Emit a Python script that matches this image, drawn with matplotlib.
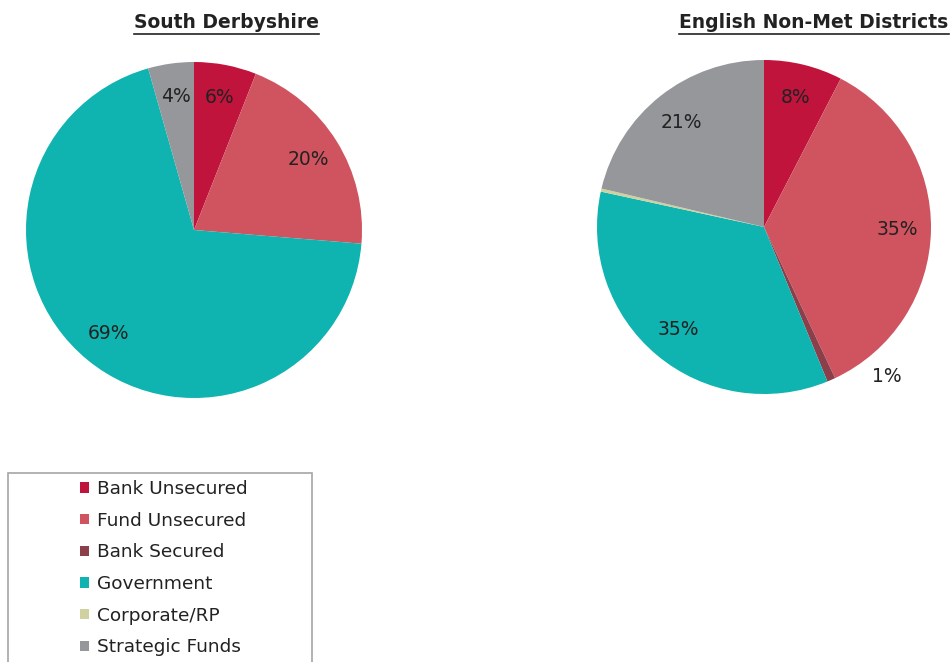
import matplotlib
matplotlib.use("Agg")
import matplotlib.pyplot as plt
import matplotlib.transforms as mtransforms
import numpy as np
from matplotlib.lines import Line2D
from matplotlib.patches import Rectangle

categories = ["Bank Unsecured", "Fund Unsecured", "Bank Secured",
              "Government", "Corporate/RP", "Strategic Funds"]
colors = ["#C0143C", "#D0545F", "#8B3F4A", "#0FB3AF", "#CFD1A0", "#95979A"]

south_derbyshire = [6.0, 20.3, 0.0, 69.3, 0.0, 4.4]
non_met_districts = [7.6, 35.4, 0.8, 34.6, 0.3, 21.3]

titles = ["South Derbyshire", "English Non-Met Districts"]

W, H = 952, 662
fig = plt.figure(figsize=(W / 100, H / 100), dpi=100)
fig.patch.set_facecolor("white")


def px_axes(cx, cy, r):
    return fig.add_axes([(cx - r) / W, (H - cy - r) / H, 2 * r / W, 2 * r / H])


def pct_label(p):
    return f"{p:.0f}%" if p >= 0.5 else ""


def draw_pie(ax, values, outside=()):
    wedges, _, autotexts = ax.pie(
        values, colors=colors, startangle=90, counterclock=False,
        autopct=pct_label, pctdistance=0.8, radius=1.0,
        wedgeprops=dict(linewidth=0),
        textprops=dict(fontsize=13.5, color="#222222"))
    for i in outside:
        # thin slice: label sits just outside the rim, to its right
        w = wedges[i]
        mid = np.deg2rad((w.theta1 + w.theta2) / 2)
        autotexts[i].set_position((np.cos(mid), np.sin(mid)))
        autotexts[i].set_transform(
            ax.transData + mtransforms.ScaledTranslation(
                0.56, 0.03, fig.dpi_scale_trans))
    ax.set_xlim(-1, 1)
    ax.set_ylim(-1, 1)
    ax.set_aspect("equal")
    ax.axis("off")
    return wedges


ax1 = px_axes(194, 230, 168)
wedges = draw_pie(ax1, south_derbyshire)
ax2 = px_axes(764, 227, 167)
draw_pie(ax2, non_met_districts, outside=(2,))

# underlined titles
title_texts = []
for x, t in zip([226, 814], titles):
    tt = fig.text(x / W, (H - 28) / H, t, ha="center", va="baseline",
                  fontsize=13.5, fontweight="bold", color="#222222")
    title_texts.append(tt)

fig.canvas.draw()
renderer = fig.canvas.get_renderer()
for tt in title_texts:
    bb = tt.get_window_extent(renderer)
    y = bb.y0 - 1.5
    fig.add_artist(Line2D([bb.x0 / W, bb.x1 / W], [y / H, y / H],
                          transform=fig.transFigure, color="#222222", lw=1.2))

# legend box (runs off the bottom edge)
fig.add_artist(Rectangle((8 / W, -0.1), (312 - 8) / W, (H - 473) / H + 0.1,
                         transform=fig.transFigure, facecolor="white",
                         edgecolor="#A6A6A6", lw=1.2, zorder=0))
fig.legend(wedges, categories, loc="upper left",
           bbox_to_anchor=(80 / W, (H - 480) / H), borderaxespad=0,
           borderpad=0, frameon=False, fontsize=13.3, handlelength=0.5,
           handleheight=0.5, handletextpad=0.4, labelspacing=0.74,
           labelcolor="#222222")

fig.savefig("out.png", dpi=100, facecolor="white")
